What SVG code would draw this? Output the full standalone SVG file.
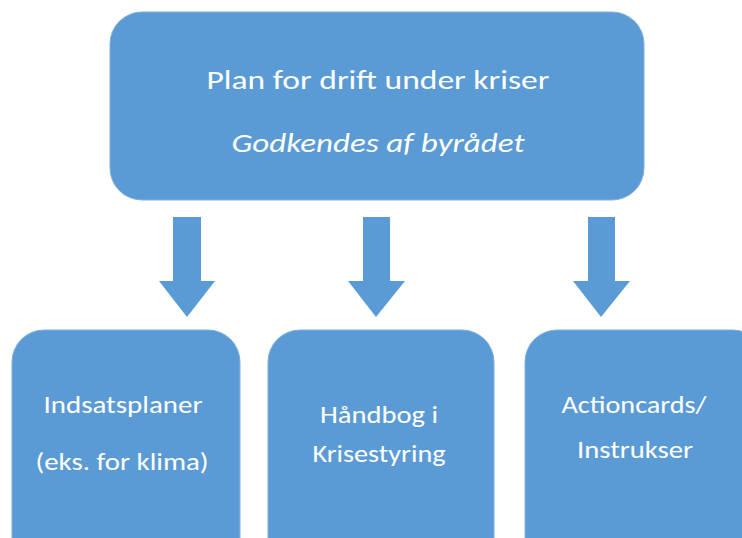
<svg xmlns="http://www.w3.org/2000/svg" width="742" height="538" viewBox="0 0 742 538">
<style>
.box{fill:#5B9BD5;stroke:#7FB0DE;stroke-width:1}
.arrow{fill:#5B9BD5}
text{fill:#FFFFFF;font-family:Carlito,"Liberation Sans",sans-serif;text-anchor:middle}
.t{font-size:27px}
.b{font-size:24px}
</style>
<rect width="742" height="538" fill="#FFFFFF"/>
<g id="top">
<rect class="box" x="110" y="12" width="534" height="188" rx="32" ry="32"/>
<text class="t" x="378" y="89" textLength="343" lengthAdjust="spacingAndGlyphs">Plan for drift under kriser</text>
<text class="t" x="378" y="152" font-style="italic" textLength="293" lengthAdjust="spacingAndGlyphs">Godkendes af byrådet</text>
</g>
<g id="connectors">
<polygon class="arrow" points="173,217 201,217 201,281 215,281 187,317 159,281 173,281"/>
<polygon class="arrow" points="363,217 390,217 390,281 405,281 376,317 348,281 363,281"/>
<polygon class="arrow" points="588,217 615,217 615,281 630,281 601,317 573,281 588,281"/>
</g>
<g id="indsats">
<rect class="box" x="12" y="330" width="228" height="240" rx="32" ry="32"/>
<text class="b" x="123" y="413" textLength="159" lengthAdjust="spacingAndGlyphs">Indsatsplaner</text>
<text class="b" x="122" y="470" textLength="173" lengthAdjust="spacingAndGlyphs">(eks. for klima)</text>
</g>
<g id="haandbog">
<rect class="box" x="268" y="330" width="226" height="240" rx="32" ry="32"/>
<text class="b" x="379" y="423" textLength="118" lengthAdjust="spacingAndGlyphs">Håndbog i</text>
<text class="b" x="379" y="462" textLength="133" lengthAdjust="spacingAndGlyphs">Krisestyring</text>
</g>
<g id="action">
<rect class="box" x="525" y="330" width="240" height="240" rx="32" ry="32"/>
<text class="b" x="634" y="413" textLength="145" lengthAdjust="spacingAndGlyphs">Actioncards/</text>
<text class="b" x="635" y="458" textLength="116" lengthAdjust="spacingAndGlyphs">Instrukser</text>
</g>
</svg>
